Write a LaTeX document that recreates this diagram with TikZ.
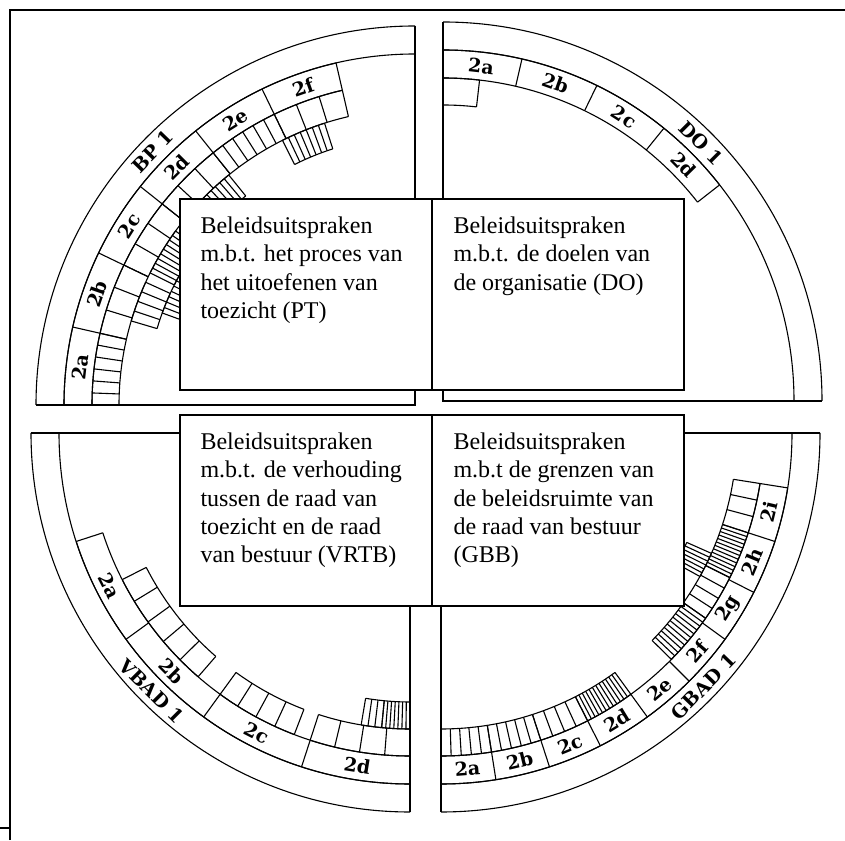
\documentclass[tikz,border=0pt]{standalone}
\usepackage{fontspec}
\setmainfont{Liberation Serif}
\newfontfamily\ringfont{DejaVu Serif}
\usetikzlibrary{positioning}

\def\rOut{379}
\def\rLab{351}
\def\rTwo{323}
\def\rThree{296}
\def\rFour{269}
\def\rFive{244}

% one run of cells in a ring: inner radius, outer radius, from, to, cells
\newcommand\ringblock[5]{%
  \draw (#3:#1) arc[start angle=#3,end angle=#4,radius=#1];
  \draw (#3:#2) arc[start angle=#3,end angle=#4,radius=#2];
  \foreach \k in {0,...,#5}
    \draw ({#3+\k*(#4-#3)/#5}:#1) -- ({#3+\k*(#4-#3)/#5}:#2);
}
% outer quarter ring with its two straight sides
\newcommand\quadframe[2]{%
  \draw (#1:\rOut) arc[start angle=#1,end angle=#2,radius=\rOut];
  \draw (#1:\rLab) arc[start angle=#1,end angle=#2,radius=\rLab];
  \draw (#1:\rOut) -- (0,0) -- (#2:\rOut);
}

\begin{document}
\begin{tikzpicture}[x=1pt,y=1pt,line width=1.1pt]
  \tikzstyle{box}=[draw,fill=white,line width=1.3pt,minimum width=252pt,minimum height=191pt,inner sep=0pt,outer sep=0pt]
  \tikzstyle{boxtext}=[anchor=north west,inner sep=0pt,align=left,font=\fontsize{24}{28.3}\selectfont]
  \tikzstyle{seg}=[inner sep=0pt,font=\ringfont\bfseries\fontsize{19}{19}\selectfont]

  \useasboundingbox (0,0) rectangle (845,840);
  \draw[line width=1.5pt] (0,12) -- (10,12) (10,0) -- (10,830) -- (845,830); % frame

  % PT quarter (BP 1)
  \begin{scope}[shift={(415,435)}]
    \quadframe{180}{90}
    \ringblock{\rTwo}{\rLab}{180}{103}{6}
    \ringblock{\rThree}{\rTwo}{180}{167.17}{6}
    \ringblock{\rThree}{\rTwo}{167.17}{154.33}{3}
    \ringblock{\rThree}{\rTwo}{154.33}{141.5}{3}
    \ringblock{\rThree}{\rTwo}{141.5}{128.67}{3}
    \ringblock{\rThree}{\rTwo}{128.67}{115.83}{6}
    \ringblock{\rThree}{\rTwo}{115.83}{103}{3}
    \ringblock{\rFour}{\rThree}{163.5}{155.5}{4}
    \ringblock{\rFour}{\rThree}{153.5}{144}{9}
    \ringblock{\rFour}{\rThree}{137}{129}{7}
    \ringblock{\rFour}{\rThree}{116.6}{107.8}{7}
    \ringblock{\rFive}{\rFour}{160}{150}{8}
    \foreach \l [count=\k from 0] in {2a,2b,2c,2d,2e,2f}{
      \pgfmathsetmacro\ang{180-12.833*(\k+0.5)}
      \node[seg,rotate=\ang-90] (bp\l) at (\ang:337) {\l};
    }
    \node[seg,rotate=46] (bp1) at (136:365) {BP 1};
  \end{scope}

  % DO quarter (DO 1)
  \begin{scope}[shift={(443,439)}]
    \quadframe{90}{0}
    \ringblock{\rTwo}{\rLab}{90}{38}{4}
    \ringblock{\rThree}{\rTwo}{90}{83.5}{1}
    \foreach \l [count=\k from 0] in {2a,2b,2c,2d}{
      \pgfmathsetmacro\ang{90-13*(\k+0.5)}
      \node[seg,rotate=\ang-90] (do\l) at (\ang:337) {\l};
    }
    \node[seg,rotate=-45] (do1) at (45:365) {DO 1};
  \end{scope}

  % VRTB quarter (VBAD 1)
  \begin{scope}[shift={(410,407)}]
    \quadframe{180}{270}
    \ringblock{\rTwo}{\rLab}{198}{270}{4}
    \ringblock{\rThree}{\rTwo}{207}{229}{5}
    \ringblock{\rThree}{\rTwo}{234}{249}{4}
    \ringblock{\rThree}{\rTwo}{252}{270}{4}
    \ringblock{\rFour}{\rThree}{260.5}{264.5}{3}
    \ringblock{\rFour}{\rThree}{264.5}{270}{7}
    \foreach \l [count=\k from 0] in {2a,2b,2c,2d}{
      \pgfmathsetmacro\ang{198+18*(\k+0.5)}
      \node[seg,rotate=\ang+90] (vb\l) at (\ang:337) {\l};
    }
    \node[seg,rotate=-45] (vbad1) at (225:365) {VBAD 1};
  \end{scope}

  % GBB quarter (GBAD 1)
  \begin{scope}[shift={(441,407)}]
    \quadframe{270}{360}
    \ringblock{\rTwo}{\rLab}{270}{351}{9}
    \ringblock{\rThree}{\rTwo}{270}{279}{5}
    \ringblock{\rThree}{\rTwo}{279}{288}{5}
    \ringblock{\rThree}{\rTwo}{288}{297}{4}
    \ringblock{\rThree}{\rTwo}{297}{306}{12}
    \ringblock{\rThree}{\rTwo}{315.5}{325}{11}
    \ringblock{\rThree}{\rTwo}{325}{333.4}{4}
    \ringblock{\rThree}{\rTwo}{333.4}{342}{12}
    \ringblock{\rThree}{\rTwo}{342}{351}{3}
    \ringblock{\rFour}{\rThree}{331}{336}{6}
    \foreach \l [count=\k from 0] in {2a,2b,2c,2d,2e,2f,2g,2h,2i}{
      \pgfmathsetmacro\ang{270+9*(\k+0.5)}
      \node[seg,rotate=\ang+90] (gb\l) at (\ang:337) {\l};
    }
    \node[seg,rotate=46] (gbad1) at (316:365) {GBAD 1};
  \end{scope}

  % the four statement boxes
  \node[box] (pt) at (306,545.5) {};
  \node[box,right=0pt of pt] (do) {};
  \node[box,below=25pt of pt] (vrtb) {};
  \node[box,right=0pt of vrtb] (gbb) {};
  \node[boxtext] (ptText) at ([shift={(20,-17.5)}]pt.north west) {Beleidsuitspraken\\m.b.t. het proces van\\het uitoefenen van\\toezicht (PT)};
  \node[boxtext] (doText) at ([shift={(21,-17.5)}]do.north west) {Beleidsuitspraken\\m.b.t. de doelen van\\de organisatie (DO)};
  \node[boxtext] (vrtbText) at ([shift={(20,-17.5)}]vrtb.north west) {Beleidsuitspraken\\m.b.t. de verhouding\\tussen de raad van\\toezicht en de raad\\van bestuur (VRTB)};
  \node[boxtext] (gbbText) at ([shift={(21,-17.5)}]gbb.north west) {Beleidsuitspraken\\m.b.t de grenzen van\\de beleidsruimte van\\de raad van bestuur\\(GBB)};
\end{tikzpicture}
\end{document}
